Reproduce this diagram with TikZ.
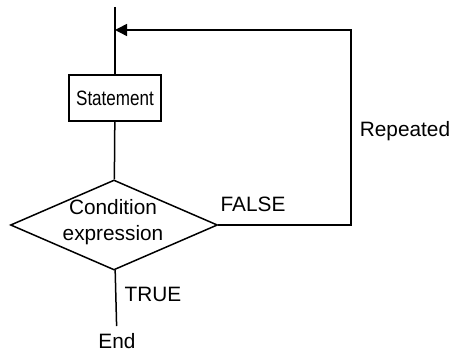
\documentclass[tikz,border=0pt]{standalone}
\usepackage{fontspec}
\usepackage{graphicx}
\setmainfont{Liberation Sans}
\usetikzlibrary{arrows.meta, positioning, shapes.geometric}

\begin{document}
\begin{tikzpicture}[
    x=0.5pt, y=-0.5pt,
    >={Triangle[length=6pt, width=6pt]},
    line width=0.75pt,
    % Define the flowchart styles
    every node/.style={font=\fontsize{10.4}{13}\selectfont},
    stmt_node/.style={rectangle, draw, minimum width=46pt, minimum height=23pt, inner sep=0pt},
    cond_node/.style={diamond, draw, minimum width=103.5pt, minimum height=45pt, inner sep=0pt},
    lbl/.style={inner sep=2pt}
]

    % Canvas with the margins of the picture
    \useasboundingbox (0,0) rectangle (454,351);

    % --- Main column ---
    \coordinate (top) at (115,7);
    \coordinate (join) at (115,30);
    \node[stmt_node] (stmt) at (115,98) {\scalebox{0.82}[1]{Statement}};
    \node[cond_node] (cond) at (114,225) {};
    \node[lbl, align=center] (cond_txt) at (113,222) {Condition\\expression};
    \node[lbl, inner sep=3.3pt] (end) at (117,341) {End};

    % --- Loop back corner ---
    \coordinate (loop_tr) at (351,30);

    % --- Arrows ---
    \draw (top) -- (stmt);
    \draw (stmt) -- (cond);
    \draw (cond) -- (end);
    \draw[->] (cond.east) -| (loop_tr) -- (join);

    % --- Labels ---
    \node[lbl] (false_lbl) at (253,204) {FALSE};
    \node[lbl] (true_lbl) at (153,294) {TRUE};
    \node[lbl] (rep_lbl) at (405,131) {Repeated};

\end{tikzpicture}
\end{document}
